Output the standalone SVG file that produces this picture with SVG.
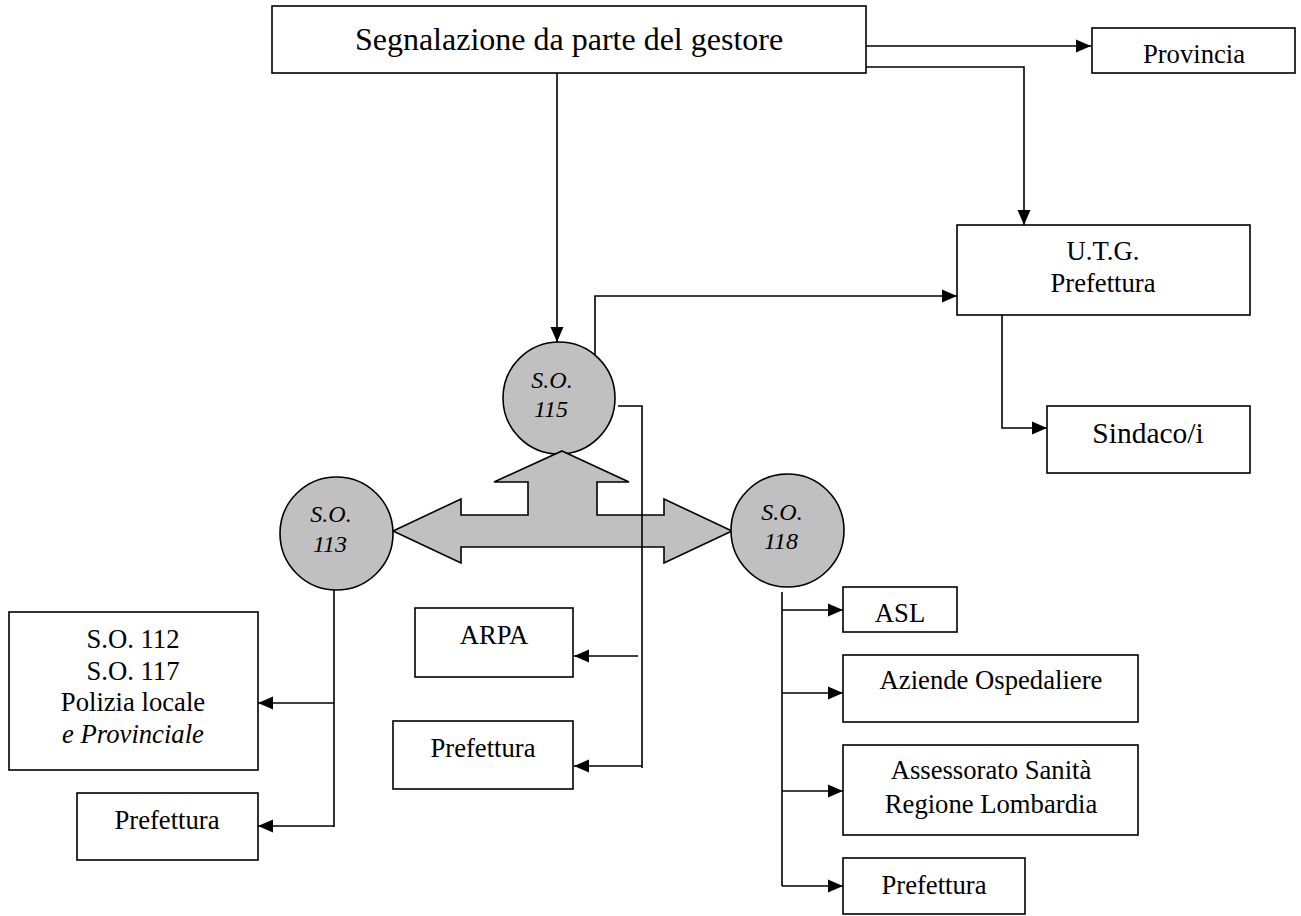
<svg xmlns="http://www.w3.org/2000/svg" width="1301" height="916" viewBox="0 0 1301 916">
<style>
.box{fill:#fff;stroke:#000;stroke-width:1.6}
.circ{fill:#c0c0c0;stroke:#000;stroke-width:1.6}
.t{font-family:"Liberation Serif","Times New Roman",serif;font-size:26.67px;fill:#000;text-anchor:middle}
.it{font-style:italic;font-size:24px}
.ln{fill:none;stroke:#000;stroke-width:1.6}
.arr{marker-end:url(#ah)}
</style>
<defs>
<marker id="ah" markerUnits="userSpaceOnUse" markerWidth="16" markerHeight="14" refX="15" refY="7" orient="auto">
<path d="M0,0.5 L15,7 L0,13.5 Z" fill="#000"/>
</marker>
</defs>
<rect width="1301" height="916" fill="#fff"/>

<g id="big-arrow">
<circle class="circ" cx="559" cy="398" r="56"/>
<polygon class="circ" points="562,451 629,482 597,482 597,515 664,515 664,499 732,531 664,563 664,547 461,547 461,563 393,531 461,499 461,515 528,515 528,482 494,482"/>
</g>

<g id="connectors">
<path class="ln arr" d="M866,46 H1091"/>
<path class="ln arr" d="M866,67 H1024 V225"/>
<path class="ln arr" d="M557,73 V342"/>
<path class="ln arr" d="M595,355 V296 H957"/>
<path class="ln arr" d="M1002,315 V428 H1047"/>
<path class="ln" d="M618,406 H642 V768"/>
<path class="ln arr" d="M638,656 H574"/>
<path class="ln arr" d="M642,766 H574"/>
<path class="ln" d="M334,590 V827"/>
<path class="ln arr" d="M334,703 H258"/>
<path class="ln arr" d="M334,826 H258"/>
<path class="ln" d="M782,592 V886"/>
<path class="ln arr" d="M782,610 H843"/>
<path class="ln arr" d="M782,693 H843"/>
<path class="ln arr" d="M782,791 H843"/>
<path class="ln arr" d="M782,886 H843"/>
</g>

<g id="segnalazione">
<rect class="box" x="272" y="6" width="594" height="67"/>
<text class="t" x="569" y="50" style="font-size:32px">Segnalazione da parte del gestore</text>
</g>

<g id="provincia">
<rect class="box" x="1092" y="28" width="203" height="45"/>
<text class="t" x="1194" y="63">Provincia</text>
</g>

<g id="utg">
<rect class="box" x="957" y="225" width="293" height="90"/>
<text class="t" x="1103" y="260">U.T.G.</text>
<text class="t" x="1103" y="292">Prefettura</text>
</g>

<g id="sindaco">
<rect class="box" x="1047" y="406" width="203" height="67"/>
<text class="t" x="1148" y="443" style="font-size:29.5px">Sindaco/i</text>
</g>

<g id="so115">
<text class="t it" x="552" y="388">S.O.</text>
<text class="t it" x="551" y="417">115</text>
</g>

<g id="so113">
<circle class="circ" cx="336.5" cy="533.5" r="56.5"/>
<text class="t it" x="331" y="522">S.O.</text>
<text class="t it" x="330" y="552">113</text>
</g>

<g id="so118">
<circle class="circ" cx="787.5" cy="530.5" r="56.5"/>
<text class="t it" x="782" y="520">S.O.</text>
<text class="t it" x="781" y="549">118</text>
</g>

<g id="so112">
<rect class="box" x="9" y="612" width="249" height="158"/>
<text class="t" x="133" y="648">S.O. 112</text>
<text class="t" x="133" y="680">S.O. 117</text>
<text class="t" x="133" y="711">Polizia locale</text>
<text class="t" x="133" y="743"><tspan font-style="italic">e Provinciale</tspan></text>
</g>

<g id="prefettura-left">
<rect class="box" x="77" y="793" width="181" height="67"/>
<text class="t" x="167" y="829">Prefettura</text>
</g>

<g id="arpa">
<rect class="box" x="415" y="608" width="158" height="69"/>
<text class="t" x="494" y="644">ARPA</text>
</g>

<g id="prefettura-mid">
<rect class="box" x="393" y="721" width="180" height="68"/>
<text class="t" x="483" y="757">Prefettura</text>
</g>

<g id="asl">
<rect class="box" x="843" y="587" width="114" height="45"/>
<text class="t" x="900" y="622">ASL</text>
</g>

<g id="aziende">
<rect class="box" x="843" y="655" width="295" height="67"/>
<text class="t" x="991" y="689">Aziende Ospedaliere</text>
</g>

<g id="assessorato">
<rect class="box" x="843" y="745" width="295" height="90"/>
<text class="t" x="991" y="779">Assessorato Sanità</text>
<text class="t" x="991" y="813">Regione Lombardia</text>
</g>

<g id="prefettura-right">
<rect class="box" x="843" y="858" width="182" height="56"/>
<text class="t" x="934" y="894">Prefettura</text>
</g>
</svg>
